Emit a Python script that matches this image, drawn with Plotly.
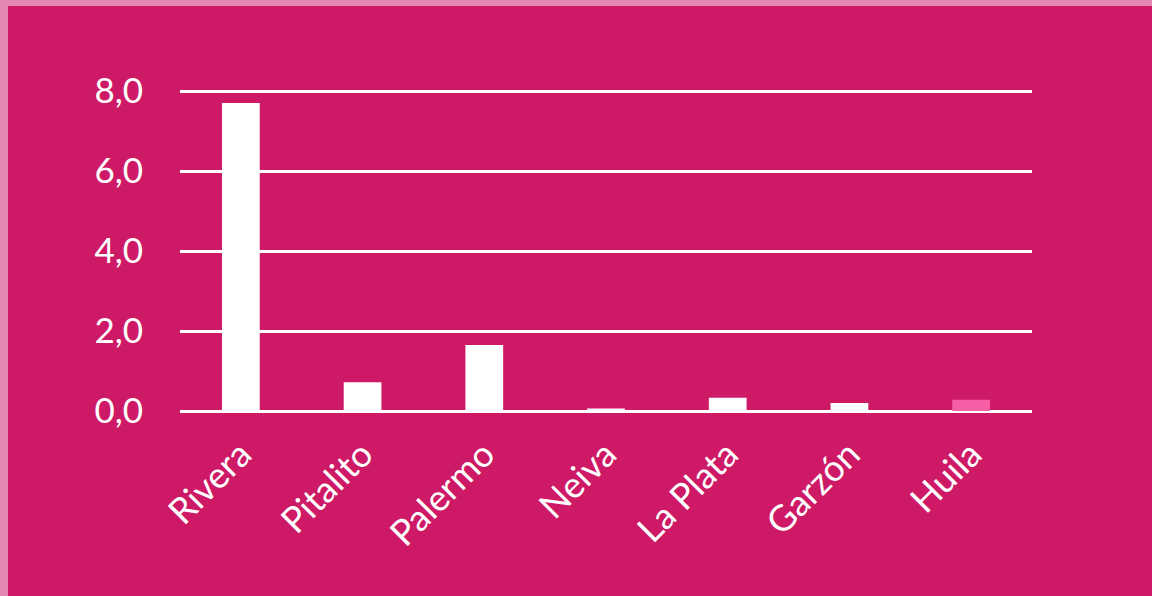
import plotly.graph_objects as go

categories = ["Rivera", "Pitalito", "Palermo", "Neiva", "La Plata", "Garzón", "Huila"]
values = [7.7, 0.72, 1.65, 0.06, 0.33, 0.2, 0.28]
bar_colors = ["#FFFFFF"] * 6 + ["#F65FA6"]
tick_vals = [0, 2, 4, 6, 8]
tick_text = ["0,0", "2,0", "4,0", "6,0", "8,0"]

BG = "#CE1A66"
BORDER = "#E388B3"
W, H = 1152, 596
L, R, T, B = 180, 120, 89, 185
pw, ph = W - L - R, H - T - B

fig = go.Figure(go.Bar(
    x=categories, y=values, marker=dict(color=bar_colors, line=dict(width=0)),
    hoverinfo="skip",
))

fig.update_layout(
    width=W, height=H,
    margin=dict(l=L, r=R, t=T, b=B, pad=0),
    paper_bgcolor=BORDER,
    plot_bgcolor="rgba(0,0,0,0)",
    bargap=0.69,
    showlegend=False,
    font=dict(family="Lato", color="white", size=35),
    shapes=[dict(
        type="rect", xref="paper", yref="paper", layer="below",
        x0=(8 - L) / pw, x1=(W - L + 10) / pw,
        y0=-(B + 10) / ph, y1=(H - B - 6) / ph,
        fillcolor=BG, line=dict(width=0),
    )],
)
fig.update_xaxes(
    tickangle=-45, showgrid=False, showline=False, zeroline=False,
    ticks="", ticklabelstandoff=14, tickfont=dict(size=36, color="white"),
)
fig.update_yaxes(
    range=[0, 8.05], tickvals=tick_vals, ticktext=tick_text,
    showgrid=True, gridcolor="white", gridwidth=3,
    zeroline=True, zerolinecolor="white", zerolinewidth=3,
    showline=False, ticks="", ticklabelstandoff=36,
    tickfont=dict(size=35, color="white"),
)

fig.write_html(
    "out.html",
    config={"displayModeBar": False, "staticPlot": True},
    post_script="document.body.style.margin='0';document.body.style.overflow='hidden';",
)
